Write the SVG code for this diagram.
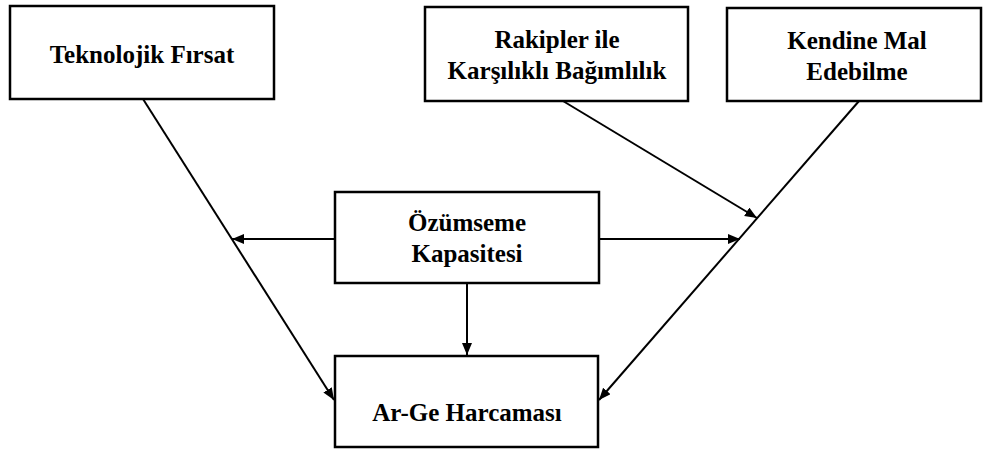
<svg xmlns="http://www.w3.org/2000/svg" width="983" height="450" viewBox="0 0 983 450">
<style>
.box{fill:#fff;stroke:#000;stroke-width:2.5}
.lbl{font-family:Liberation Serif,Times New Roman,Noto Serif,DejaVu Serif,serif;font-weight:700;font-size:25px;fill:#000;text-anchor:middle}
.edge{stroke:#000;stroke-width:2;fill:none;marker-end:url(#arr)}
</style>
<defs>
<marker id="arr" markerUnits="userSpaceOnUse" markerWidth="14" markerHeight="12" refX="12" refY="5" orient="auto">
<path d="M0,0 L12,5 L0,10 Z" fill="#000"/>
</marker>
</defs>
<rect width="983" height="450" fill="#fff"/>
<g id="connectors">
<line class="edge" x1="143" y1="99" x2="334" y2="400"/>
<line class="edge" x1="859" y1="101" x2="599" y2="400"/>
<line class="edge" x1="563" y1="101" x2="757" y2="218"/>
<line class="edge" x1="335" y1="239" x2="232" y2="239"/>
<line class="edge" x1="599" y1="239" x2="740" y2="239"/>
<line class="edge" x1="467" y1="283" x2="467" y2="355"/>
</g>
<g id="teknolojik">
<rect class="box" x="10" y="6" width="264" height="93"/>
<text class="lbl" x="142" y="63">Teknolojik Fırsat</text>
</g>
<g id="rakipler">
<rect class="box" x="425" y="7" width="263" height="94"/>
<text class="lbl" x="557" y="48">Rakipler ile</text>
<text class="lbl" x="557" y="79">Karşılıklı Bağımlılık</text>
</g>
<g id="kendine">
<rect class="box" x="727" y="8" width="254" height="93"/>
<text class="lbl" x="857" y="49">Kendine Mal</text>
<text class="lbl" x="857" y="80">Edebilme</text>
</g>
<g id="ozumseme">
<rect class="box" x="335" y="192" width="264" height="91"/>
<text class="lbl" x="467" y="231">Özümseme</text>
<text class="lbl" x="467" y="262">Kapasitesi</text>
</g>
<g id="arge">
<rect class="box" x="335" y="356" width="263" height="91"/>
<text class="lbl" x="467" y="421">Ar-Ge Harcaması</text>
</g>
</svg>
